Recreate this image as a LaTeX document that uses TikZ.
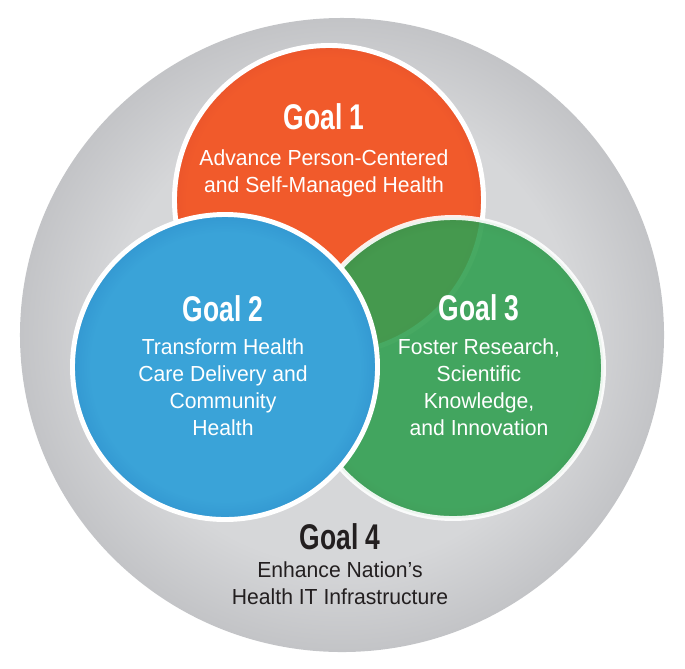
\documentclass[tikz,border=0pt]{standalone}
\usepackage{fontspec}
\setmainfont{Liberation Sans}
\newfontfamily\goalhead{Liberation Sans}[FakeStretch=0.74]
\newfontfamily\goalbody{Liberation Sans}[FakeStretch=0.97]
\usetikzlibrary{shapes.geometric}
\definecolor{gRed}{HTML}{F15A2B}
\definecolor{gRedD}{HTML}{CD3E29}
\definecolor{gBlue}{HTML}{3AA3D8}
\definecolor{gBlueD}{HTML}{1C73BB}
\definecolor{gGreen}{HTML}{33A052}
\definecolor{gGreenD}{HTML}{237C3A}
\definecolor{gGrayL}{HTML}{D6D7D9}
\definecolor{gGray}{HTML}{C0C1C4}
\definecolor{gGrayM}{HTML}{ADAEB1}
\definecolor{gGrayD}{HTML}{9D9EA1}
\definecolor{gInk}{HTML}{231F20}
% circle edge lies at about 35bp of the shading
\pgfdeclareradialshading{redball}{\pgfpoint{0bp}{0bp}}{color(0bp)=(gRed); color(23bp)=(gRed); color(35.5bp)=(gRedD); color(50bp)=(gRedD)}
\pgfdeclareradialshading{blueball}{\pgfpoint{0bp}{0bp}}{color(0bp)=(gBlue); color(22bp)=(gBlue); color(35.5bp)=(gBlueD); color(50bp)=(gBlueD)}
\pgfdeclareradialshading{greenball}{\pgfpoint{0bp}{0bp}}{color(0bp)=(gGreen); color(23bp)=(gGreen); color(35.5bp)=(gGreenD); color(50bp)=(gGreenD)}
\pgfdeclareradialshading{grayball}{\pgfpoint{0bp}{0bp}}{color(0bp)=(gGrayL); color(18bp)=(gGrayL); color(26bp)=(gGray); color(32.5bp)=(gGrayM); color(34.9bp)=(gGrayD); color(35.6bp)=(gGrayM); color(50bp)=(gGrayM)}
\tikzset{
  goal/.style={circle, draw=white, line width=4.2pt, shading=#1, inner sep=0pt},
  head/.style={font=\goalhead\bfseries\fontsize{30.5}{30.5}\selectfont, text=white, inner sep=0pt, anchor=base},
  body/.style={font=\goalbody\fontsize{18.6}{23}\selectfont, text=white, align=center, inner sep=0pt, anchor=base},
}
\begin{document}
\begin{tikzpicture}[x=0.03cm,y=-0.03cm]
\useasboundingbox (0,0) rectangle (685,668);
% ================= goal 4: outer ring =================
\node[ellipse, shading=grayball, minimum width=19.32cm, minimum height=19.02cm, inner sep=0pt] (ring) at (342,335) {};
% ================= goal circles =================
\node[goal=redball, minimum size=9.27cm] (g1) at (329,200) {};
\node[goal=greenball, minimum size=9.03cm, opacity=0.9] (g3) at (453,368) {};
\node[goal=blueball, minimum size=9.15cm] (g2) at (225,367) {};
% ================= labels (body nodes sit on their last line) =================
\node[head] (h1) at (324,129) {Goal 1};
\node[body] (t1) at (324,192) {Advance Person-Centered\\ and Self-Managed Health};
\node[head] (h2) at (223,321) {Goal 2};
\node[body] (t2) at (223,435) {Transform Health\\ Care Delivery and\\ Community\\ Health};
\node[head] (h3) at (479,320) {Goal 3};
\node[body] (t3) at (479,435) {Foster Research,\\ Scientific\\ Knowledge,\\ and Innovation};
\node[head, text=gInk] (h4) at (340,549) {Goal 4};
\node[body, text=gInk] (t4) at (340,604) {Enhance Nation’s\\ Health IT Infrastructure};
\end{tikzpicture}
\end{document}
